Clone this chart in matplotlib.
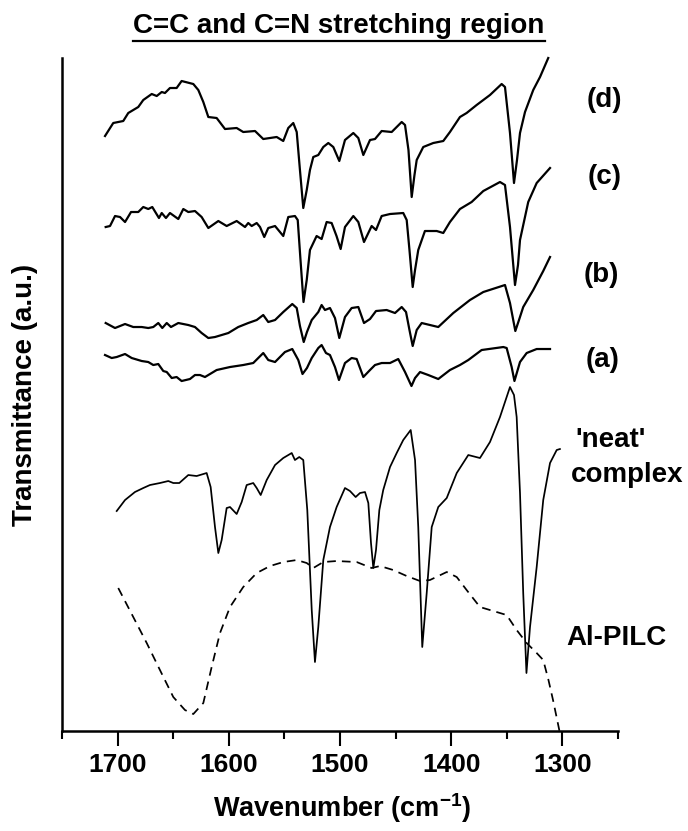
import matplotlib
matplotlib.use("Agg")
import matplotlib.pyplot as plt
from matplotlib.lines import Line2D

# (wavenumber cm-1, transmittance a.u.)
CURVE_D = [
    (1711.3, 595), (1703.9, 608), (1694.9, 610), (1690.4, 618), (1681.4, 624), (1676.9, 631),
    (1669.3, 637), (1664.8, 635), (1660.3, 639), (1657.4, 638), (1652.9, 643), (1646.9, 643),
    (1642.4, 650), (1631.9, 647), (1627.4, 641), (1622.9, 629), (1618.4, 614), (1610.9, 613),
    (1603.4, 602), (1592.9, 603), (1587.0, 599), (1576.4, 600), (1569.0, 592), (1556.9, 594),
    (1551.0, 590), (1546.5, 603), (1542.0, 608), (1538.9, 599), (1536.0, 561), (1533.0, 523),
    (1529.9, 541), (1527.0, 561), (1524.0, 574), (1519.5, 576), (1515.0, 584), (1510.5, 588),
    (1506.0, 584), (1500.6, 570), (1495.5, 591), (1488.0, 598), (1483.5, 593), (1479.0, 576),
    (1473.0, 591), (1468.5, 592), (1462.5, 600), (1453.5, 599), (1444.5, 609), (1441.5, 606),
    (1438.4, 581), (1435.5, 534), (1433.0, 556), (1431.0, 571), (1425.1, 584), (1416.1, 588),
    (1407.1, 590), (1401.1, 599), (1392.1, 614), (1386.1, 618), (1377.1, 626), (1365.1, 636),
    (1354.6, 647), (1351.6, 644), (1347.1, 598), (1343.5, 548), (1340.8, 571), (1338.1, 598),
    (1333.6, 619), (1326.2, 641), (1320.1, 654), (1312.7, 673),
]
CURVE_C = [
    (1710.7, 504), (1706.8, 505), (1702.3, 515), (1697.8, 514), (1693.3, 509), (1687.9, 519),
    (1681.4, 519), (1676.9, 524), (1672.4, 522), (1668.8, 524), (1662.8, 513), (1660.3, 518),
    (1656.5, 513), (1652.9, 518), (1645.4, 512), (1640.9, 522), (1636.4, 519), (1630.4, 520),
    (1624.4, 514), (1618.4, 503), (1609.4, 510), (1601.9, 505), (1592.9, 510), (1585.4, 504),
    (1582.5, 508), (1579.4, 505), (1574.9, 508), (1571.9, 504), (1568.1, 494), (1564.5, 503),
    (1558.4, 505), (1551.0, 495), (1546.5, 514), (1540.5, 515), (1538.0, 511), (1535.5, 471),
    (1532.8, 429), (1529.9, 451), (1527.0, 481), (1521.0, 495), (1516.5, 492), (1512.0, 509),
    (1507.5, 508), (1503.1, 495), (1499.4, 482), (1495.5, 504), (1488.0, 515), (1483.5, 509),
    (1478.4, 489), (1471.5, 505), (1467.6, 501), (1462.5, 515), (1455.0, 517), (1443.1, 518),
    (1440.0, 511), (1437.5, 481), (1434.6, 444), (1432.5, 461), (1429.6, 481), (1423.6, 500),
    (1413.0, 500), (1407.1, 498), (1401.1, 509), (1392.1, 522), (1381.6, 529), (1371.1, 540),
    (1356.1, 549), (1351.6, 546), (1347.1, 504), (1342.6, 446), (1339.9, 466), (1338.1, 491),
    (1330.7, 529), (1323.1, 548), (1311.1, 563),
]
CURVE_B = [
    (1710.7, 408), (1702.3, 403), (1693.3, 407), (1685.9, 404), (1678.3, 404), (1672.4, 403),
    (1667.9, 404), (1663.4, 408), (1659.8, 403), (1655.8, 408), (1652.0, 404), (1645.4, 408),
    (1636.4, 406), (1630.4, 404), (1624.4, 398), (1618.4, 393), (1612.4, 394), (1600.4, 398),
    (1591.5, 404), (1582.5, 408), (1574.9, 411), (1569.0, 416), (1564.5, 409), (1558.4, 411),
    (1551.0, 419), (1542.9, 427), (1538.9, 423), (1536.0, 405), (1532.6, 389), (1529.7, 399),
    (1525.4, 411), (1519.5, 419), (1516.5, 426), (1513.5, 421), (1509.0, 423), (1504.5, 413),
    (1500.6, 393), (1495.5, 414), (1489.5, 423), (1483.5, 424), (1478.4, 408), (1473.0, 412),
    (1467.6, 420), (1458.0, 421), (1450.5, 418), (1444.5, 424), (1440.6, 419), (1437.5, 401),
    (1434.6, 385), (1431.0, 401), (1426.5, 408), (1411.6, 404), (1398.1, 418), (1383.1, 431),
    (1371.1, 439), (1351.6, 446), (1347.1, 428), (1342.3, 400), (1339.0, 411), (1335.2, 424),
    (1326.2, 441), (1317.2, 460), (1311.1, 474),
]
CURVE_A = [
    (1711.3, 376), (1705.3, 373), (1700.8, 374), (1693.3, 377), (1687.3, 373), (1678.3, 370),
    (1672.4, 369), (1667.9, 366), (1663.4, 367), (1658.9, 360), (1655.8, 359), (1651.3, 353),
    (1646.9, 354), (1642.4, 350), (1634.9, 352), (1630.4, 356), (1625.9, 356), (1621.4, 354),
    (1610.9, 361), (1598.9, 364), (1587.0, 366), (1578.0, 368), (1569.0, 378), (1564.5, 371),
    (1558.4, 369), (1549.5, 379), (1542.9, 382), (1537.5, 371), (1533.7, 357), (1529.7, 363),
    (1525.4, 373), (1519.5, 383), (1516.5, 386), (1512.6, 378), (1509.0, 376), (1504.5, 364),
    (1500.9, 351), (1495.5, 368), (1489.5, 373), (1485.0, 372), (1479.0, 354), (1473.0, 361),
    (1468.5, 366), (1462.5, 368), (1455.0, 368), (1447.6, 372), (1441.5, 359), (1435.7, 345),
    (1432.5, 353), (1428.0, 359), (1420.6, 356), (1411.6, 352), (1401.1, 361), (1392.1, 366),
    (1384.6, 371), (1372.6, 381), (1353.1, 384), (1350.1, 383), (1345.6, 364), (1343.1, 350),
    (1338.1, 369), (1332.1, 378), (1323.1, 382), (1311.1, 382),
]
CURVE_NEAT = [
    (1700.8, 220), (1693.3, 231), (1684.4, 239), (1676.9, 243), (1670.9, 246), (1661.9, 248),
    (1654.4, 250), (1649.9, 248), (1644.5, 248), (1636.4, 256), (1628.9, 255), (1619.9, 258),
    (1616.3, 244), (1612.4, 204), (1609.4, 178), (1606.4, 191), (1601.9, 223), (1598.9, 224),
    (1592.9, 217), (1588.4, 229), (1583.9, 246), (1578.0, 248), (1574.9, 243), (1571.3, 236),
    (1565.9, 251), (1558.4, 266), (1551.0, 273), (1543.4, 278), (1540.5, 271), (1536.6, 274),
    (1533.0, 271), (1529.4, 221), (1525.4, 121), (1522.5, 69), (1519.5, 104), (1515.0, 171),
    (1509.0, 204), (1503.0, 224), (1495.5, 243), (1491.0, 240), (1485.9, 234), (1482.0, 238),
    (1477.5, 239), (1474.5, 228), (1472.1, 188), (1470.0, 163), (1467.6, 181), (1464.6, 221),
    (1461.1, 241), (1455.0, 264), (1449.0, 278), (1443.1, 291), (1436.4, 301), (1432.5, 271),
    (1429.6, 204), (1426.0, 84), (1422.0, 138), (1417.5, 204), (1411.6, 224), (1404.0, 233),
    (1395.0, 258), (1384.6, 276), (1374.1, 273), (1365.1, 289), (1356.1, 314), (1347.1, 344),
    (1343.5, 336), (1341.1, 314), (1338.1, 238), (1335.2, 138), (1332.3, 58), (1329.1, 104),
    (1323.1, 164), (1317.2, 231), (1311.1, 268), (1305.1, 281), (1302.2, 282),
]
CURVE_PILC = [
    (1699.4, 143), (1685.9, 114), (1673.8, 88), (1661.9, 61), (1649.9, 34), (1639.4, 21),
    (1631.9, 17), (1622.9, 28), (1615.4, 64), (1607.9, 98), (1598.9, 124), (1587.0, 144),
    (1574.9, 158), (1562.9, 165), (1551.0, 169), (1538.9, 171), (1529.9, 168), (1524.0, 163),
    (1515.0, 169), (1503.0, 170), (1485.0, 169), (1471.5, 163), (1464.0, 165), (1452.1, 161),
    (1440.0, 155), (1428.0, 150), (1419.1, 151), (1404.0, 159), (1395.0, 154), (1386.1, 141),
    (1374.1, 124), (1362.1, 120), (1350.1, 116), (1341.1, 101), (1332.1, 88), (1323.1, 78),
    (1317.2, 71), (1312.5, 51), (1308.4, 31), (1302.6, 0),
]
SOLID_CURVES = [CURVE_D, CURVE_C, CURVE_B, CURVE_A]
MAJOR_TICKS = [1700, 1600, 1500, 1400, 1300]
MINOR_TICKS = [1750, 1650, 1550, 1450, 1350, 1250]

plt.rcParams["font.family"] = ["Liberation Sans", "DejaVu Sans"]
plt.rcParams["font.weight"] = "bold"
plt.rcParams["mathtext.fontset"] = "custom"
plt.rcParams["mathtext.rm"] = "Liberation Sans:bold"
plt.rcParams["mathtext.bf"] = "Liberation Sans:bold"

fig = plt.figure(figsize=(6.88, 8.31), dpi=100)
ax = fig.add_axes([0.0901, 0.1203, 0.8081, 0.8099])

for curve in SOLID_CURVES:
    wn, t = zip(*curve)
    ax.plot(wn, t, color="black", lw=1.6, clip_on=False, solid_joinstyle="round")
wn, t = zip(*CURVE_NEAT)
ax.plot(wn, t, color="black", lw=1.25, clip_on=False, solid_joinstyle="round")
wn, t = zip(*CURVE_PILC)
ax.plot(wn, t, color="black", lw=1.25, dashes=(5, 3.5), clip_on=False)

ax.set_xlim(1750, 1250)
ax.set_ylim(0, 673)
ax.set_xticks(MAJOR_TICKS)
ax.set_xticks(MINOR_TICKS, minor=True)
ax.set_yticks([])
for side in ("top", "right"):
    ax.spines[side].set_visible(False)
for side in ("left", "bottom"):
    ax.spines[side].set_linewidth(1.8)
ax.tick_params(axis="x", which="major", direction="out", length=10.5, width=1.5,
               labelsize=19, pad=5)
ax.tick_params(axis="x", which="minor", direction="out", length=6, width=1.5)

ax.set_xlabel("Wavenumber (cm$^{-1}$)", fontsize=19.5, fontweight="bold", va="center")
ax.xaxis.set_label_coords(0.504, -0.115)
ax.set_ylabel("Transmittance (a.u.)", fontsize=20, fontweight="bold", va="center")
ax.yaxis.set_label_coords(-0.066, 0.5)

lab = dict(fontsize=20, fontweight="bold", va="center", clip_on=False)
ax.text(1262, 631, "(d)", ha="center", **lab)
ax.text(1262, 554, "(c)", ha="center", **lab)
ax.text(1265, 456, "(b)", ha="center", **lab)
ax.text(1264, 371, "(a)", ha="center", **lab)
ax.text(1288, 291, "'neat'", ha="left", **lab)
ax.text(1292, 256, "complex", ha="left", **lab)
ax.text(1296, 93, "Al-PILC", ha="left", **lab)

title = fig.text(0.493, 0.969, "C=C and C=N stretching region", ha="center", va="center",
                 fontsize=20, fontweight="bold")
fig.canvas.draw()
bb = title.get_window_extent().transformed(fig.transFigure.inverted())
fig.add_artist(Line2D([bb.x0, bb.x1], [bb.y0 - 0.003, bb.y0 - 0.003],
                      transform=fig.transFigure, color="black", lw=1.6))

fig.savefig("out.png", dpi=100, facecolor="white")
